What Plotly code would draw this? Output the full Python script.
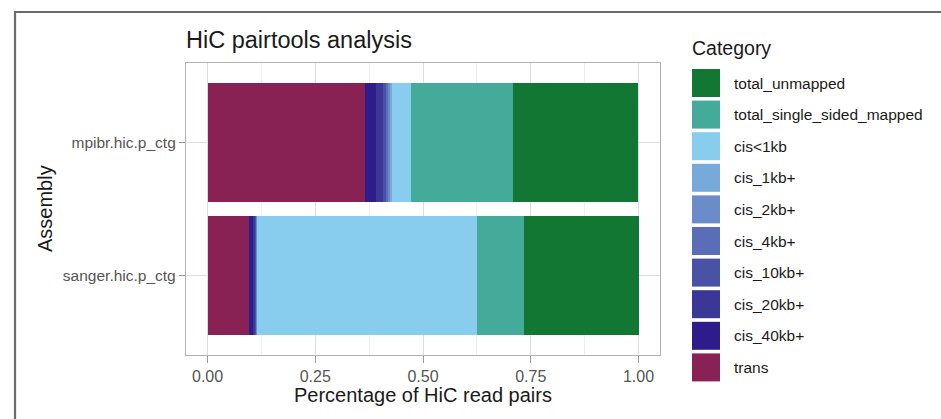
import plotly.graph_objects as go

# Assemblies (top to bottom as drawn) and stacking order of the categories (left to right)
assemblies = ["mpibr.hic.p_ctg", "sanger.hic.p_ctg"]
categories = [
    "trans", "cis_40kb+", "cis_20kb+", "cis_10kb+", "cis_4kb+", "cis_2kb+",
    "cis_1kb+", "cis<1kb", "total_single_sided_mapped", "total_unmapped",
]
colors = [
    "#882255", "#2E1C8A", "#3B3797", "#4A52A6", "#5A6DB8", "#6A8CC9",
    "#78A9DB", "#88CCEE", "#44AA99", "#117733",
]

# Fraction of read pairs per category, one list per category: [mpibr, sanger]
trans = [0.366, 0.096]
cis_40kb = [0.026, 0.010]
cis_20kb = [0.016, 0.006]
cis_10kb = [0.007, 0.0015]
cis_4kb = [0.005, 0.001]
cis_2kb = [0.004, 0.0005]
cis_1kb = [0.005, 0.0005]
cis_lt1kb = [0.042, 0.509]
single_sided = [0.238, 0.109]
unmapped = [0.291, 0.268]

series = [trans, cis_40kb, cis_20kb, cis_10kb, cis_4kb, cis_2kb,
          cis_1kb, cis_lt1kb, single_sided, unmapped]

x_ticks = [0, 0.25, 0.5, 0.75, 1.0]
x_tick_labels = ["0.00", "0.25", "0.50", "0.75", "1.00"]

W, H = 941, 419
PL, PR, PT, PB = 186, 660, 63, 355  # plot panel in pixels

FONT = "Liberation Sans, Arial, Helvetica, sans-serif"

fig = go.Figure()
for name, vals, col in zip(categories, series, colors):
    fig.add_trace(go.Bar(
        y=assemblies, x=vals, name=name, orientation="h",
        marker=dict(color=col, line=dict(width=0)), width=0.9,
        showlegend=False,
    ))


def px_x(p):
    return (p - PL) / (PR - PL)


def px_y(p):
    return (PB - p) / (PB - PT)


shapes = []
annotations = []

# legend: keys listed from the last stacked category to the first
key_x0, key_x1 = 692, 720
key_top, key_pitch, key_size = 69, 31.6, 28
for i, (name, col) in enumerate(zip(categories[::-1], colors[::-1])):
    y0 = key_top + i * key_pitch
    shapes.append(dict(
        type="rect", xref="paper", yref="paper",
        x0=px_x(key_x0), x1=px_x(key_x1), y0=px_y(y0 + key_size), y1=px_y(y0),
        fillcolor=col, line=dict(width=0), layer="above",
    ))
    annotations.append(dict(
        text=name, xref="paper", yref="paper", x=px_x(732), y=px_y(y0 + key_size / 2),
        xanchor="left", yanchor="middle", showarrow=False,
        font=dict(family=FONT, size=15.5, color="#1a1a1a"),
    ))

annotations.append(dict(
    text="Category", xref="paper", yref="paper", x=px_x(690), y=px_y(48),
    xanchor="left", yanchor="middle", showarrow=False,
    font=dict(family=FONT, size=19.5, color="#1a1a1a"),
))

# axis titles
annotations.append(dict(
    text="Percentage of HiC read pairs", xref="paper", yref="paper",
    x=0.5, y=px_y(395), xanchor="center", yanchor="middle", showarrow=False,
    font=dict(family=FONT, size=20, color="#1a1a1a"),
))
annotations.append(dict(
    text="Assembly", xref="paper", yref="paper", textangle=-90,
    x=px_x(45), y=0.5, xanchor="center", yanchor="middle", showarrow=False,
    font=dict(family=FONT, size=20, color="#1a1a1a"),
))

# outer frame: only the left and top edges fall inside the page
frame = dict(color="#6b6b6b", width=2.2)
shapes.append(dict(type="line", xref="paper", yref="paper",
                   x0=px_x(15), x1=px_x(15), y0=px_y(H + 5), y1=px_y(12), line=frame))
shapes.append(dict(type="line", xref="paper", yref="paper",
                   x0=px_x(14), x1=px_x(W + 5), y0=px_y(12), y1=px_y(12), line=frame))

fig.update_layout(
    width=W, height=H,
    margin=dict(l=PL, r=W - PR, t=PT, b=H - PB, pad=0),
    paper_bgcolor="white", plot_bgcolor="white",
    barmode="stack",
    showlegend=False,
    title=dict(
        text="HiC pairtools analysis", x=px_x(186), xref="paper", xanchor="left",
        y=1 - 40 / H, yref="container", yanchor="middle",
        font=dict(family=FONT, size=23.5, color="#1a1a1a"),
    ),
    xaxis=dict(
        range=[-0.05, 1.05], tickvals=x_ticks, ticktext=x_tick_labels,
        showgrid=True, gridcolor="#dedede", gridwidth=1,
        minor=dict(tickvals=[0.125, 0.375, 0.625, 0.875], showgrid=True,
                   gridcolor="#efefef", gridwidth=1, ticks=""),
        zeroline=False, showline=True, mirror=True, linecolor="#b3b3b3", linewidth=1.3,
        ticks="outside", ticklen=7, tickcolor="#9a9a9a", tickwidth=1,
        tickfont=dict(family=FONT, size=16, color="#555555"),
    ),
    yaxis=dict(
        categoryorder="array", categoryarray=assemblies[::-1], range=[-0.6, 1.6],
        showgrid=True, gridcolor="#dedede", gridwidth=1,
        zeroline=False, showline=True, mirror=True, linecolor="#b3b3b3", linewidth=1.3,
        ticks="outside", ticklen=6, tickcolor="#9a9a9a", tickwidth=1,
        tickfont=dict(family=FONT, size=15.5, color="#555555"),
    ),
    shapes=shapes,
    annotations=annotations,
)

fig.write_html("out.html")
